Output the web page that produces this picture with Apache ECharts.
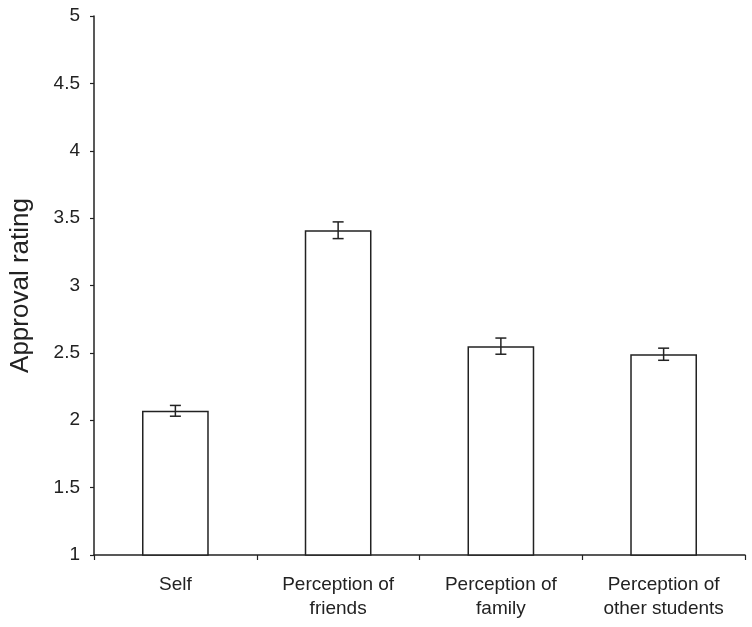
<!DOCTYPE html>
<html><head><meta charset="utf-8">
<script src="https://cdn.jsdelivr.net/npm/echarts@6/dist/echarts.min.js"></script>
<style>html,body{margin:0;padding:0;background:#fff}#c{width:752px;height:627px}</style>
</head><body><div id="c"></div>
<script>
const categories = ['Self', 'Perception of\nfriends', 'Perception of\nfamily', 'Perception of\nother students'];
const values = [2.07, 3.41, 2.55, 2.49];
const errors = [0.04, 0.062, 0.06, 0.045];
const yTicks = ['1', '1.5', '2', '2.5', '3', '3.5', '4', '4.5', '5'];

const chart = echarts.init(document.getElementById('c'));
const font = 'Liberation Sans, Arial, Helvetica, sans-serif';
chart.setOption({
  animation: false,
  grid: { left: 92, right: 7, top: 16, bottom: 72 },
  xAxis: {
    type: 'category', data: categories,
    axisLine: { lineStyle: { color: '#222', width: 1.5 } },
    axisTick: { show: true, length: 5, lineStyle: { color: '#222', width: 1.2 }, alignWithLabel: false },
    axisLabel: { color: '#222', fontSize: 19, fontFamily: font, margin: 18, lineHeight: 24, interval: 0 }
  },
  yAxis: {
    type: 'value', min: 1, max: 5, interval: 0.5,
    name: 'Approval rating', nameLocation: 'middle', nameGap: 60, nameRotate: 90,
    nameTextStyle: { color: '#222', fontSize: 26, fontFamily: font },
    splitLine: { show: false },
    axisLine: { show: true, lineStyle: { color: '#222', width: 1.5 } },
    axisTick: { show: true, length: 4, lineStyle: { color: '#222', width: 1.2 } },
    axisLabel: { color: '#222', fontSize: 19, fontFamily: font, margin: 14,
      formatter: v => yTicks.find(t => Math.abs(parseFloat(t) - v) < 1e-9) || '' }
  },
  series: [{
    type: 'bar', data: values, barWidth: '41%',
    itemStyle: { color: '#fff', borderColor: '#222', borderWidth: 1.5 }
  }, {
    type: 'custom',
    data: values.map((v, i) => [i, v - errors[i], v + errors[i]]),
    renderItem: function (params, api) {
      const lo = api.coord([api.value(0), api.value(1)]);
      const hi = api.coord([api.value(0), api.value(2)]);
      const hw = 5.5;
      const st = { stroke: '#222', lineWidth: 1.5 };
      return { type: 'group', children: [
        { type: 'line', shape: { x1: lo[0], y1: lo[1], x2: hi[0], y2: hi[1] }, style: st },
        { type: 'line', shape: { x1: lo[0] - hw, y1: lo[1], x2: lo[0] + hw, y2: lo[1] }, style: st },
        { type: 'line', shape: { x1: hi[0] - hw, y1: hi[1], x2: hi[0] + hw, y2: hi[1] }, style: st }
      ]};
    },
    z: 10
  }]
});
</script></body></html>
